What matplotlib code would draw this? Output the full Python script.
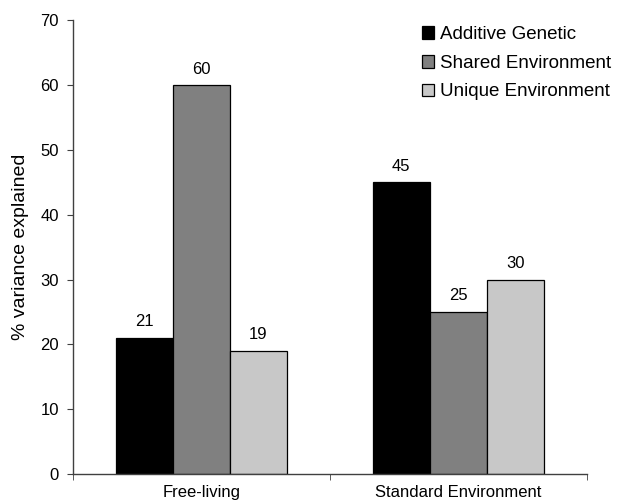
import matplotlib
matplotlib.use("Agg")
import matplotlib.pyplot as plt
import numpy as np

plt.rcParams['font.family'] = ['Liberation Sans', 'DejaVu Sans']

categories = ["Free-living", "Standard Environment"]
series_names = ["Additive Genetic", "Shared Environment", "Unique Environment"]
additive = [21, 45]
shared = [60, 25]
unique = [19, 30]
colors = ["#000000", "#808080", "#c8c8c8"]

fig = plt.figure(figsize=(6.17, 5.04), dpi=100)
ax = fig.add_axes([0.118, 0.0595, 0.833, 0.9005])

x = np.arange(len(categories))
w = 0.222
for i, (vals, name, c) in enumerate(zip([additive, shared, unique], series_names, colors)):
    pos = x + (i - 1) * w
    ax.bar(pos, vals, width=w, color=c, edgecolor="black", linewidth=0.9, label=name)
    for p, v in zip(pos, vals):
        ax.text(p, v + 1.3, str(v), ha="center", va="bottom", fontsize=12)

ax.set_xlim(-0.5, 1.5)
ax.set_ylim(0, 70)
ax.set_yticks(range(0, 71, 10))
ax.set_xticks(x)
ax.set_xticklabels(categories, fontsize=12)
ax.set_xticks([-0.5, 0.5, 1.5], minor=True)
ax.tick_params(axis="x", which="major", length=0, pad=8)
ax.tick_params(axis="x", which="minor", length=4, color="#404040")
ax.tick_params(axis="y", length=4, labelsize=12, color="#404040", pad=6)
for s in ["top", "right"]:
    ax.spines[s].set_visible(False)
for s in ["left", "bottom"]:
    ax.spines[s].set_color("#404040")
    ax.spines[s].set_linewidth(1.0)
ax.set_ylabel("% variance explained", fontsize=14, labelpad=8)

ax.legend(loc="upper left", bbox_to_anchor=(0.684, 0.948), bbox_transform=fig.transFigure,
          borderaxespad=0, borderpad=0, frameon=False, fontsize=13.5,
          handlelength=0.65, handleheight=0.65, handletextpad=0.3, labelspacing=0.62)

fig.savefig("out.png", dpi=100)
